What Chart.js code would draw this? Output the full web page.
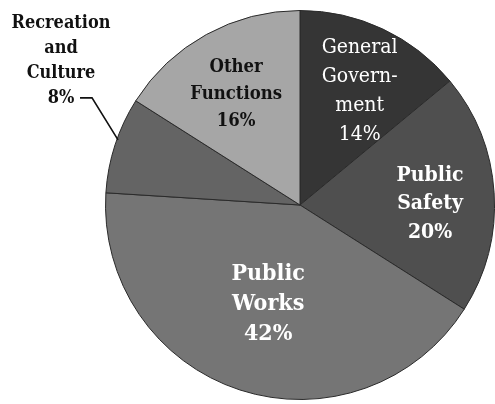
<!DOCTYPE html>
<html>
<head>
<meta charset="utf-8">
<script src="https://cdn.jsdelivr.net/npm/chart.js@4"></script>
<style>
  html, body { margin: 0; padding: 0; background: #fff; }
  #wrap { width: 495px; height: 404px; position: relative; }
</style>
</head>
<body>
<div id="wrap"><canvas id="c" width="495" height="404"></canvas></div>
<script>
const categories = ["General Government", "Public Safety", "Public Works", "Recreation and Culture", "Other Functions"];
const shares = [14, 20, 42, 8, 16];
const labelLines = [
  ["General", "Govern-", "ment"],
  ["Public", "Safety"],
  ["Public", "Works"],
  ["Recreation", "and", "Culture"],
  ["Other", "Functions"]
];
const sliceColors = ["#353535", "#4f4f4f", "#757575", "#646464", "#a6a6a6"];

const FAM = "'DejaVu Serif', serif";
// label styling: radial fraction, pixel nudge, font, horizontal squeeze, colour, line height
const labelStyle = [
  { frac: 0.66, dx: 5, dy: 2, font: "normal 21px " + FAM, sx: 0.9, color: "#ffffff", lh: 29 },
  { frac: 0.67, dx: 0, dy: 7, font: "bold 21px " + FAM, sx: 0.9, color: "#ffffff", lh: 28.5 },
  { frac: 0.53, dx: 0, dy: 1, font: "bold 23px " + FAM, sx: 0.9, color: "#ffffff", lh: 30 },
  { outside: true, font: "bold 19px " + FAM, sx: 0.85, color: "#111111", lh: 25 },
  { frac: 0.66, dx: -2, dy: 2, font: "bold 19px " + FAM, sx: 0.87, color: "#111111", lh: 27 }
];

const labelPlugin = {
  id: 'sliceLabels',
  afterDatasetsDraw(chart) {
    const ctx = chart.ctx;
    const meta = chart.getDatasetMeta(0);
    meta.data.forEach((arc, i) => {
      const st = labelStyle[i];
      const lines = labelLines[i].concat([shares[i] + "%"]);
      const mid = (arc.startAngle + arc.endAngle) / 2;
      ctx.save();
      let cx, cy;
      if (st.outside) {
        const ex = arc.x + Math.cos(mid) * arc.outerRadius;
        const ey = arc.y + Math.sin(mid) * arc.outerRadius;
        const elx = ex - 23, ely = ey - 47;
        ctx.strokeStyle = '#111';
        ctx.lineWidth = 1.6;
        ctx.beginPath();
        ctx.moveTo(ex + 3, ey - 5);
        ctx.lineTo(elx, ely);
        ctx.lineTo(elx - 12, ely);
        ctx.stroke();
        cx = elx - 31;
        cy = ely - 37;
      } else {
        const r = arc.outerRadius * st.frac;
        cx = arc.x + Math.cos(mid) * r + st.dx;
        cy = arc.y + Math.sin(mid) * r + st.dy;
      }
      ctx.font = st.font;
      ctx.fillStyle = st.color;
      ctx.textAlign = 'center';
      ctx.textBaseline = 'middle';
      const n = lines.length;
      lines.forEach((t, k) => {
        ctx.save();
        ctx.translate(cx, cy + (k - (n - 1) / 2) * st.lh);
        ctx.scale(st.sx, 1);
        ctx.fillText(t, 0, 0);
        ctx.restore();
      });
      ctx.restore();
    });
  }
};

new Chart(document.getElementById('c'), {
  type: 'pie',
  data: {
    labels: categories,
    datasets: [{
      data: shares,
      backgroundColor: sliceColors,
      borderColor: '#2a2a2a',
      borderWidth: 1
    }]
  },
  options: {
    responsive: false,
    animation: false,
    layout: { padding: { left: 105, right: 0, top: 10, bottom: 4 } },
    plugins: {
      legend: { display: false },
      tooltip: { enabled: false }
    }
  },
  plugins: [labelPlugin]
});
</script>
</body>
</html>
